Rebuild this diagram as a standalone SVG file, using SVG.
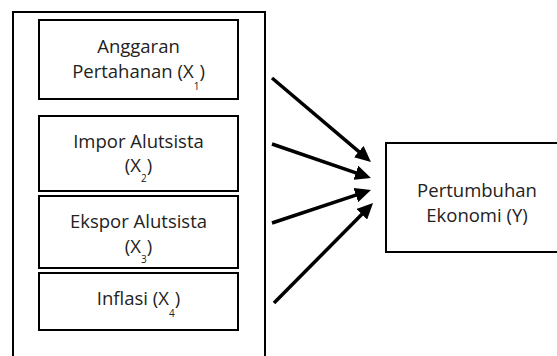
<svg xmlns="http://www.w3.org/2000/svg" width="557" height="356" viewBox="0 0 557 356">
<defs>
<style>
.box{fill:#fff;stroke:#000;stroke-width:2}
.t{font-family:"Open Sans","Liberation Sans",sans-serif;font-size:18.5px;fill:#222;text-anchor:middle}
.sub{font-size:10px}
.arr{stroke:#000;stroke-width:3.5;fill:none;marker-end:url(#ah)}
</style>
<marker id="ah" markerUnits="userSpaceOnUse" markerWidth="16" markerHeight="15" viewBox="0 0 16 15" refX="4" refY="7.5" orient="auto">
<path d="M0,0 L16,7.5 L0,15 z" fill="#000"/>
</marker>
</defs>
<rect width="557" height="356" fill="#fff"/>
<g id="outer"><rect class="box" x="13" y="12" width="252" height="360"/></g>
<g id="x1">
<rect class="box" x="39" y="20" width="199" height="79"/>
<text class="t" x="138.5" y="53">Anggaran</text>
<text class="t" x="138.5" y="78">Pertahanan (X<tspan class="sub" dy="12">1</tspan><tspan dy="-12">)</tspan></text>
</g>
<g id="x2">
<rect class="box" x="39" y="116" width="199" height="75"/>
<text class="t" x="138.5" y="148">Impor Alutsista</text>
<text class="t" x="138.5" y="172">(X<tspan class="sub" dy="10">2</tspan><tspan dy="-10">)</tspan></text>
</g>
<g id="x3">
<rect class="box" x="39" y="196" width="199" height="72"/>
<text class="t" x="138.5" y="228">Ekspor Alutsista</text>
<text class="t" x="138.5" y="253">(X<tspan class="sub" dy="10">3</tspan><tspan dy="-10">)</tspan></text>
</g>
<g id="x4">
<rect class="box" x="39" y="273" width="199" height="57"/>
<text class="t" x="138.5" y="305">Inflasi (X<tspan class="sub" dy="12">4</tspan><tspan dy="-12">)</tspan></text>
</g>
<g id="y">
<rect class="box" x="386" y="143" width="180" height="109"/>
<text class="t" x="477" y="197">Pertumbuhan</text>
<text class="t" x="477" y="222">Ekonomi (Y)</text>
</g>
<g id="connectors">
<line class="arr" x1="272" y1="78" x2="361.8" y2="154.2"/>
<line class="arr" x1="272" y1="144" x2="359.6" y2="174.1"/>
<line class="arr" x1="272" y1="223" x2="359.6" y2="193.8"/>
<line class="arr" x1="274" y1="303" x2="364.6" y2="211.5"/>
</g>
</svg>
